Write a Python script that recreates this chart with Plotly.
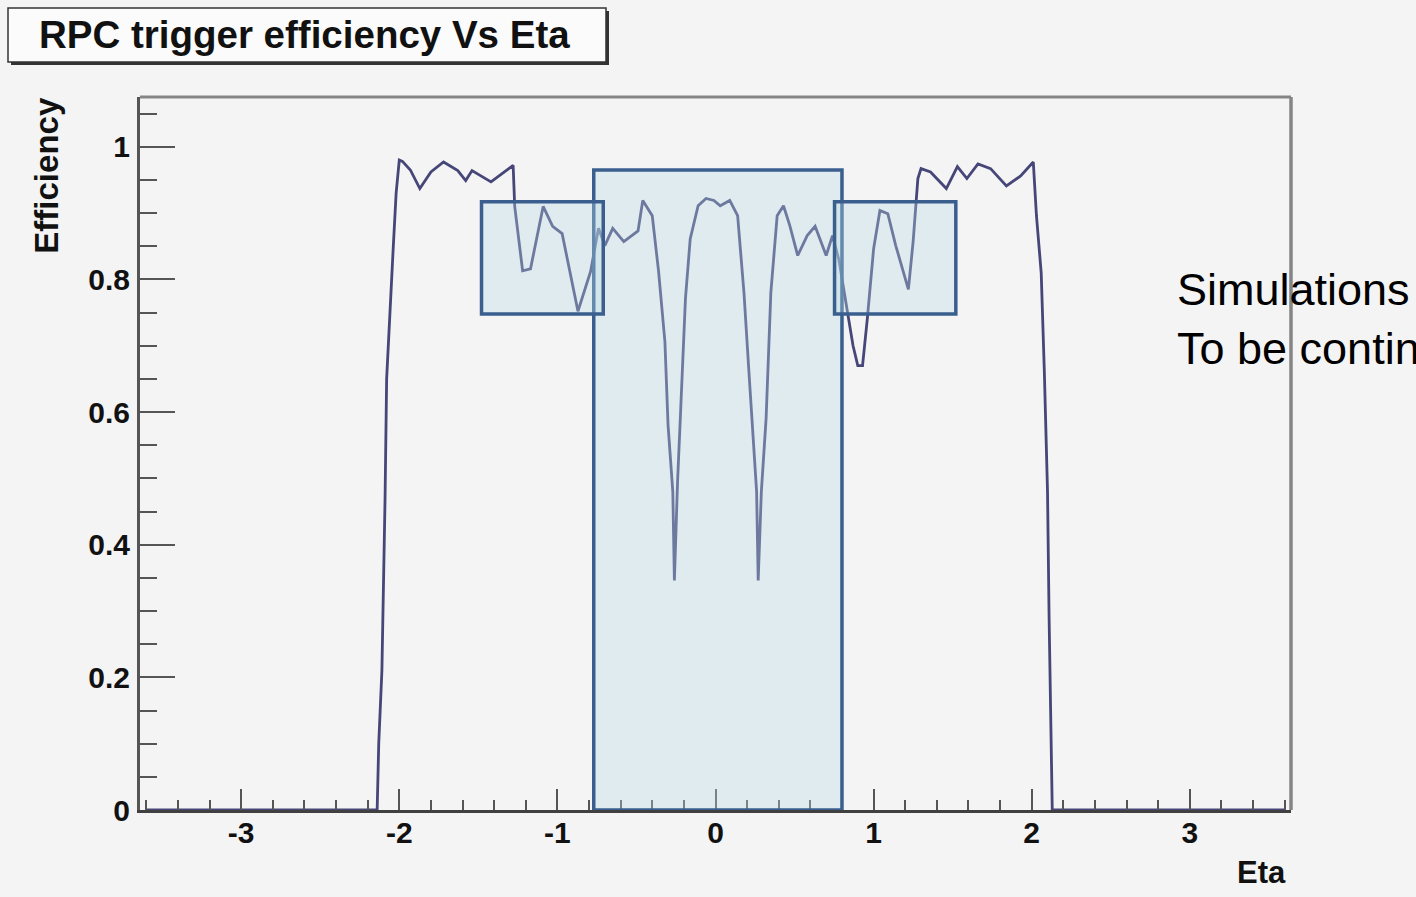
import plotly.graph_objects as go

# ---- data ----
eta = [-3.60, -2.14, -2.13, -2.11, -2.09, -2.08, -2.04, -2.02, -2.00, -1.98,
       -1.93, -1.87, -1.80, -1.72, -1.63, -1.58, -1.54, -1.48, -1.42, -1.28,
       -1.27, -1.22, -1.17, -1.09, -1.03, -0.97, -0.87, -0.79, -0.74, -0.70,
       -0.65, -0.58, -0.49, -0.46, -0.40, -0.36, -0.32, -0.30, -0.27, -0.26,
       -0.24, -0.22, -0.19, -0.16, -0.11, -0.06, -0.01, 0.03, 0.09, 0.14,
       0.18, 0.21, 0.24, 0.26, 0.27, 0.29, 0.32, 0.35, 0.39, 0.43,
       0.47, 0.52, 0.58, 0.63, 0.70, 0.74, 0.78, 0.84, 0.87, 0.90,
       0.93, 0.96, 0.98, 1.00, 1.04, 1.09, 1.14, 1.19, 1.22, 1.25,
       1.28, 1.30, 1.36, 1.46, 1.53, 1.59, 1.66, 1.74, 1.84, 1.93,
       2.01, 2.03, 2.06, 2.08, 2.10, 2.11, 2.12, 2.13, 3.60]
efficiency = [0.0, 0.0, 0.10, 0.21, 0.47, 0.65, 0.84, 0.93, 0.98, 0.978,
              0.965, 0.937, 0.962, 0.977, 0.964, 0.949, 0.964, 0.955, 0.947, 0.972,
              0.91, 0.813, 0.816, 0.910, 0.880, 0.869, 0.752, 0.812, 0.877, 0.851,
              0.877, 0.857, 0.873, 0.919, 0.896, 0.812, 0.706, 0.58, 0.48, 0.346,
              0.495, 0.605, 0.771, 0.861, 0.911, 0.922, 0.919, 0.911, 0.919, 0.896,
              0.78, 0.666, 0.556, 0.48, 0.346, 0.48, 0.59, 0.78, 0.896, 0.911,
              0.881, 0.836, 0.866, 0.88, 0.836, 0.866, 0.83, 0.741, 0.70, 0.67,
              0.67, 0.74, 0.80, 0.846, 0.904, 0.899, 0.851, 0.812, 0.785, 0.857,
              0.952, 0.967, 0.962, 0.937, 0.970, 0.952, 0.974, 0.967, 0.941, 0.956,
              0.977, 0.896, 0.81, 0.66, 0.48, 0.29, 0.10, 0.0, 0.0]

x_tick_vals = [-3, -2, -1, 0, 1, 2, 3]
x_tick_text = ["-3", "-2", "-1", "0", "1", "2", "3"]
y_tick_vals = [0, 0.2, 0.4, 0.6, 0.8, 1]
y_tick_text = ["0", "0.2", "0.4", "0.6", "0.8", "1"]

title_text = "RPC trigger efficiency Vs Eta"
x_title = "Eta"
y_title = "Efficiency"
note_text = "Simulations<br>To be continued"

# highlighted regions (eta range, efficiency range)
boxes = [(-0.77, 0.80, 0.0, 0.965),
         (-1.48, -0.71, 0.748, 0.917),
         (0.753, 1.52, 0.748, 0.917)]

FONT = "Liberation Sans, Arial, Helvetica, sans-serif"
BG = "#f4f4f4"

fig = go.Figure()
fig.add_trace(go.Scatter(x=eta, y=efficiency, mode="lines",
                         line=dict(color="#464678", width=2.8),
                         hoverinfo="skip", showlegend=False))

shapes = []
for x0, x1, y0, y1 in boxes:
    shapes.append(dict(type="rect", xref="x", yref="y", x0=x0, x1=x1, y0=y0, y1=y1,
                       fillcolor="rgba(184,218,230,0.35)",
                       line=dict(color="#3a5f8f", width=3.5), layer="above"))

# frame top and right lines
shapes.append(dict(type="line", xref="paper", yref="paper", x0=0, x1=1, y0=1, y1=1,
                   line=dict(color="#858585", width=3)))
shapes.append(dict(type="line", xref="paper", yref="paper", x0=1, x1=1, y0=0, y1=1,
                   line=dict(color="#858585", width=3.5)))

# title box with shadow (pixel sizing anchored on plot area corner)
shapes.append(dict(type="rect", xref="paper", yref="paper",
                   xsizemode="pixel", ysizemode="pixel", xanchor=0, yanchor=1,
                   x0=-129, x1=469, y0=32, y1=86, fillcolor="#333333",
                   line=dict(width=0), layer="above"))
shapes.append(dict(type="rect", xref="paper", yref="paper",
                   xsizemode="pixel", ysizemode="pixel", xanchor=0, yanchor=1,
                   x0=-132, x1=466, y0=35, y1=89, fillcolor="#fbfbfb",
                   line=dict(color="#333333", width=1.5), layer="above"))

annotations = [
    dict(text="<b>%s</b>" % title_text, xref="paper", yref="paper",
         x=0.1425, y=1.087, xanchor="center", yanchor="middle", showarrow=False,
         font=dict(family=FONT, size=38.5, color="#111111")),
    dict(text="<b>%s</b>" % y_title, xref="paper", yref="paper",
         x=-0.0808, y=1.004, xanchor="center", yanchor="top", textangle=-90,
         showarrow=False, font=dict(family=FONT, size=33, color="#111111")),
    dict(text="<b>%s</b>" % x_title, xref="paper", yref="paper",
         x=0.9974, y=-0.087, xanchor="right", yanchor="middle",
         showarrow=False, font=dict(family=FONT, size=31, color="#111111")),
    dict(text=note_text, xref="paper", yref="paper", x=0.899, y=0.7686,
         xanchor="left", yanchor="top", align="left", showarrow=False,
         font=dict(family=FONT, size=45, color="#000000")),
]

fig.update_layout(
    width=1416, height=897,
    margin=dict(l=140, r=125, t=97, b=87),
    paper_bgcolor=BG, plot_bgcolor=BG,
    shapes=shapes, annotations=annotations,
    xaxis=dict(range=[-3.64, 3.64], showgrid=False, zeroline=False,
               showline=True, linecolor="#404040", linewidth=3,
               ticks="inside", ticklen=21, tickwidth=2, tickcolor="#555555",
               tickvals=x_tick_vals,
               ticktext=["<b>%s</b>" % t for t in x_tick_text],
               tickfont=dict(family=FONT, size=30, color="#111111"),
               ticklabelstandoff=-6,
               minor=dict(dtick=0.2, tick0=0, ticks="inside", ticklen=10,
                          tickwidth=2, tickcolor="#555555", showgrid=False)),
    yaxis=dict(range=[0, 1.075], showgrid=False, zeroline=False,
               showline=True, linecolor="#555555", linewidth=3,
               ticks="inside", ticklen=35, tickwidth=2, tickcolor="#555555",
               tickvals=y_tick_vals,
               ticktext=["<b>%s</b>" % t for t in y_tick_text],
               tickfont=dict(family=FONT, size=30, color="#111111"),
               ticklabelstandoff=1,
               minor=dict(dtick=0.05, tick0=0, ticks="inside", ticklen=17,
                          tickwidth=2, tickcolor="#555555", showgrid=False)),
)

fig.write_html("out.html")
